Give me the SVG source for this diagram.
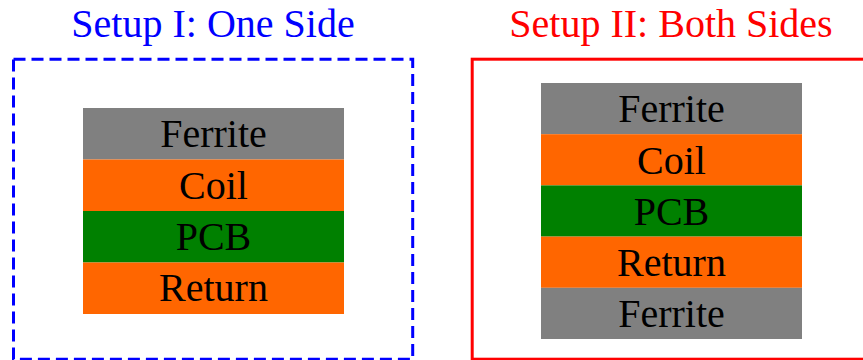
<svg xmlns="http://www.w3.org/2000/svg" width="863" height="360" viewBox="0 0 863 360">
<style>
.title{font-family:"Liberation Serif","Times New Roman",serif;font-size:40px;text-anchor:middle}
.lbl{font-family:"Liberation Serif","Times New Roman",serif;font-size:40px;text-anchor:middle;fill:#000}
.ferrite{fill:#808080}
.coil{fill:#ff6600}
.pcb{fill:#008000}
</style>
<rect width="863" height="360" fill="#fff"/>
<g id="setup1">
<text class="title" x="213" y="37" fill="#0000ff">Setup I: One Side</text>
<rect x="13.5" y="59.2" width="399.2" height="300" fill="none" stroke="#0000ff" stroke-width="3" stroke-dasharray="12,6"/>
<g id="s1-ferrite"><rect class="ferrite" x="83" y="108" width="261" height="51.5"/><text class="lbl" x="213.5" y="147">Ferrite</text></g>
<g id="s1-coil"><rect class="coil" x="83" y="159.5" width="261" height="51.5"/><text class="lbl" x="213.5" y="199">Coil</text></g>
<g id="s1-pcb"><rect class="pcb" x="83" y="211" width="261" height="51.5"/><text class="lbl" x="213.5" y="250">PCB</text></g>
<g id="s1-return"><rect class="coil" x="83" y="262.5" width="261" height="51.5"/><text class="lbl" x="213.5" y="301">Return</text></g>
</g>
<g id="setup2">
<text class="title" x="671" y="37" fill="#ff0000">Setup II: Both Sides</text>
<rect x="472.2" y="59.2" width="400" height="300" fill="none" stroke="#ff0000" stroke-width="3"/>
<g id="s2-ferrite1"><rect class="ferrite" x="541" y="83" width="261" height="51.2"/><text class="lbl" x="671.5" y="122">Ferrite</text></g>
<g id="s2-coil"><rect class="coil" x="541" y="134.2" width="261" height="51.2"/><text class="lbl" x="671.5" y="173.5">Coil</text></g>
<g id="s2-pcb"><rect class="pcb" x="541" y="185.4" width="261" height="51.2"/><text class="lbl" x="671.5" y="224.5">PCB</text></g>
<g id="s2-return"><rect class="coil" x="541" y="236.6" width="261" height="51.2"/><text class="lbl" x="671.5" y="275.5">Return</text></g>
<g id="s2-ferrite2"><rect class="ferrite" x="541" y="287.8" width="261" height="51.2"/><text class="lbl" x="671.5" y="327">Ferrite</text></g>
</g>
<g id="connectors"/>
</svg>
